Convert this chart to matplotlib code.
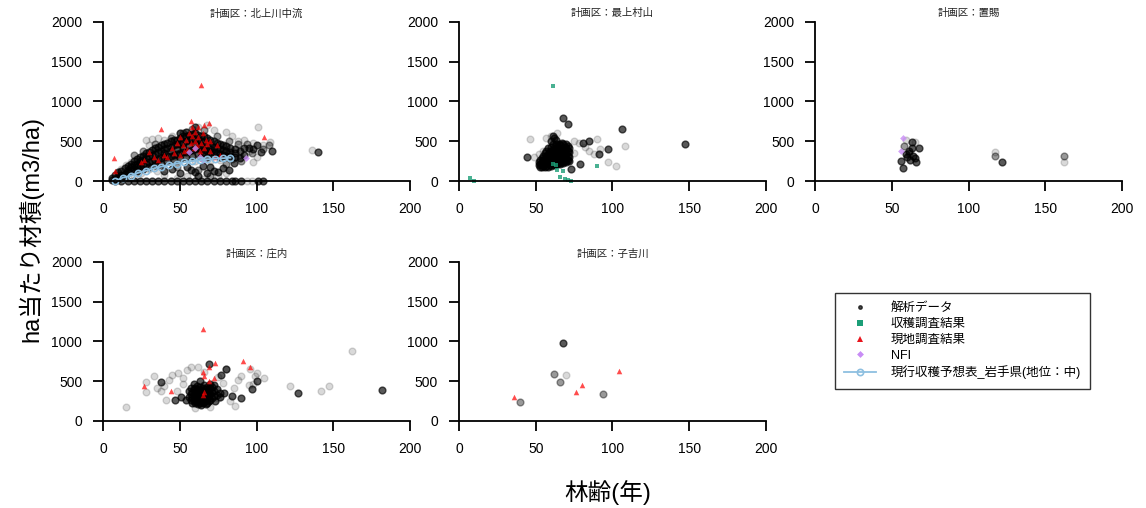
import matplotlib
matplotlib.use("Agg")
import matplotlib.pyplot as plt
from matplotlib.lines import Line2D

plt.rcParams['font.family'] = ['Liberation Sans', 'Noto Sans CJK JP', 'DejaVu Sans']

# ---- data (age, volume m3/ha) ----
titles = ["計画区：北上川中流", "計画区：最上村山", "計画区：置賜", "計画区：庄内", "計画区：子吉川"]

# 北上川中流 -- (age, [volumes]) groups of the dense dark cloud
kita_dark_cols = [
    (6, [10, 40]), (8, [30, 80]), (10, [50, 110, 20]), (12, [70, 130]),
    (14, [90, 160, 60]), (16, [110, 190, 140]), (18, [130, 220, 170]),
    (20, [150, 250, 200]), (22, [170, 280, 220, 130]), (24, [190, 300, 250]),
    (26, [200, 320, 270, 150]), (28, [220, 350, 290]), (30, [240, 370, 310, 180]),
    (32, [250, 390, 330]), (34, [260, 410, 340, 200]), (36, [280, 430, 360]),
    (38, [290, 450, 380, 220]), (40, [300, 470, 400, 350]), (42, [310, 480, 420, 250]),
    (44, [320, 500, 430, 380]), (46, [330, 510, 450, 270]), (48, [340, 520, 460, 400]),
    (50, [350, 540, 470, 280, 600]), (52, [360, 560, 480, 420]),
    (54, [370, 570, 500, 300, 620]), (56, [380, 580, 510, 450]),
    (58, [390, 590, 520, 320]), (60, [400, 600, 520, 460, 680]),
    (62, [410, 580, 510, 340]), (64, [400, 570, 500, 450, 300]),
    (66, [390, 560, 490, 350]), (68, [380, 540, 470, 300]), (70, [370, 520, 450, 400]),
    (72, [360, 500, 430, 330]), (74, [350, 480, 420]), (76, [340, 470, 400, 300]),
    (78, [330, 450, 390]), (80, [320, 440, 380]), (83, [310, 420, 360]),
    (86, [300, 400, 350]), (89, [290, 380]), (92, [420, 330]),
]
kita_dark_extra = [(40, 120), (45, 150), (50, 100), (55, 170), (57, 140), (60, 110),
                   (62, 60), (65, 190), (68, 100), (70, 170), (72, 130), (75, 110),
                   (78, 160), (82, 140), (85, 230), (103, 370), (110, 380), (140, 370),
                   (95, 420), (100, 450), (98, 400)]
kita_zero_ages = [8, 12, 16, 20, 24, 28, 32, 36, 40, 44, 48, 52, 56, 60, 64, 68, 72,
                  76, 80, 84, 86, 90, 101, 104]
kita_mid = [(20, 330), (26, 380), (34, 470), (44, 540), (52, 610), (58, 650), (66, 640),
            (74, 560), (82, 500), (88, 470), (94, 460), (97, 350), (90, 250), (84, 280),
            (62, 140), (70, 60), (48, 180), (36, 200), (104, 400), (108, 450), (80, 210)]
kita_light = [(12, 150), (15, 200), (18, 240), (22, 280), (26, 330), (28, 520), (32, 530),
              (36, 540), (30, 450), (40, 520), (45, 560), (50, 600), (55, 620), (62, 680),
              (68, 700), (72, 640), (80, 620), (84, 560), (88, 500), (92, 520), (98, 480),
              (101, 675), (98, 240), (104, 450), (109, 490), (136, 390), (35, 120),
              (40, 80), (48, 40), (55, 60), (65, 30), (75, 60), (80, 100), (85, 300),
              (90, 300), (95, 380), (100, 300), (78, 350), (82, 330), (20, 60), (25, 100),
              (30, 150), (10, 100), (60, 250), (70, 250), (76, 270), (94, 0), (97, 0)]
kita_field = [(7, 290), (8, 125), (38, 660), (57, 760), (69, 735), (64, 1205), (105, 555),
              (27, 265), (30, 370), (36, 265), (25, 240), (33, 300), (40, 330), (45, 420),
              (48, 480), (50, 550), (52, 450), (54, 520), (55, 400), (56, 600), (57, 480),
              (58, 560), (59, 420), (60, 500), (60, 620), (61, 450), (62, 550), (63, 380),
              (64, 480), (65, 600), (66, 420), (67, 520), (68, 460), (70, 380), (72, 300),
              (76, 330), (62, 680), (58, 680), (66, 700), (53, 380), (46, 350), (42, 300),
              (50, 330), (63, 330), (70, 500), (74, 450)]
kita_nfi = [(56, 370), (60, 410), (63, 305), (93, 285), (65, 260)]

# 現行収穫予想表 (岩手県, 地位: 中)
yield_age = [8, 13, 18, 23, 28, 33, 38, 43, 48, 53, 58, 63, 68, 73, 78, 83]
yield_vol = [0, 43, 66, 104, 130, 158, 180, 200, 220, 235, 250, 262, 272, 280, 287, 293]

# 最上村山
moga_dark_cols = [
    (52, [200, 240]), (53, [180, 260, 220]), (54, [170, 230, 290]),
    (55, [190, 260, 320]), (56, [170, 210, 280, 350]), (57, [190, 250, 310, 380]),
    (58, [180, 230, 290, 340, 410]), (59, [200, 260, 320, 380]),
    (60, [190, 240, 300, 360, 430, 500]), (61, [210, 270, 330, 390, 460, 560]),
    (62, [200, 250, 310, 370, 420, 540]), (63, [220, 280, 340, 400, 470, 510]),
    (64, [210, 260, 320, 380, 440]), (65, [230, 290, 350, 410, 470]),
    (66, [220, 270, 330, 390, 450]), (67, [240, 300, 360, 420, 480]),
    (68, [230, 280, 340, 400, 460]), (69, [250, 310, 370, 430]),
    (70, [240, 290, 350, 410, 470]), (71, [260, 320, 380, 440]), (72, [250, 300, 360, 420]),
]
moga_dark_extra = [(44, 305), (68, 790), (71, 720), (85, 505), (97, 400), (79, 220),
                   (73, 155), (147, 460), (106, 655), (81, 478), (91, 340)]
moga_light = [(46, 525), (57, 545), (90, 525), (108, 445), (102, 190), (97, 235),
              (82, 425), (52, 340), (49, 305), (55, 380), (60, 560), (75, 500), (78, 480),
              (85, 380), (92, 400), (64, 600), (88, 340), (75, 350)]
moga_harvest = [(7, 35), (10, 0), (61, 1195), (61, 220), (64, 140), (68, 125), (66, 45),
                (69, 25), (71, 10), (73, 0), (90, 190), (63, 200)]

# 置賜
oki_dark = [(57, 167), (56, 247), (63, 494), (68, 411), (66, 243), (62, 260), (59, 344),
            (61, 380), (64, 320), (63, 411), (60, 300), (65, 290), (122, 243)]
oki_mid = [(117, 319), (162, 319), (58, 444), (61, 350)]
oki_light = [(117, 370), (162, 243), (59, 511), (65, 494)]
oki_nfi = [(57, 537), (56, 377)]

# 庄内
sho_dark_cols = [
    (56, [300, 380]), (57, [260, 340, 420]), (58, [230, 300, 370]),
    (59, [250, 320, 400, 460]), (60, [220, 280, 350, 420]), (61, [240, 300, 370, 440]),
    (62, [210, 270, 330, 400]), (63, [230, 290, 360, 430, 500]), (64, [200, 260, 320, 390]),
    (65, [220, 280, 350, 420]), (66, [240, 300, 370, 450]), (67, [210, 270, 330, 400]),
    (68, [230, 290, 360, 430]), (69, [250, 310, 380]), (70, [270, 340, 410, 470]),
    (71, [290, 360, 430]), (72, [310, 380, 450]), (74, [330, 400]), (76, [350, 300]),
]
sho_dark_extra = [(38, 495), (69, 720), (77, 580), (80, 650), (100, 505), (97, 400),
                  (90, 285), (84, 318), (79, 356), (51, 298), (54, 264), (127, 356),
                  (182, 390), (47, 270), (73, 250)]
sho_light = [(15, 180), (28, 360), (28, 495), (40, 440), (45, 580), (49, 600), (57, 685),
             (41, 264), (86, 193), (70, 180), (90, 570), (99, 570), (105, 538), (96, 650),
             (80, 650), (122, 440), (142, 380), (147, 445), (162, 880), (35, 420),
             (33, 560), (38, 380), (43, 520), (52, 540), (55, 640), (62, 680), (66, 620),
             (75, 550), (78, 480), (85, 420), (88, 520), (95, 450), (98, 470), (100, 600),
             (60, 160), (75, 290), (83, 250), (48, 380), (52, 460)]
sho_field = [(65, 1157), (27, 444), (44, 377), (69, 675), (73, 734), (91, 759), (96, 675),
             (65, 620), (66, 566), (72, 538), (69, 509), (66, 370), (65, 330)]

# 子吉川
kos_dark = [(68, 985)]
kos_mid = [(62, 591), (66, 495), (94, 344), (40, 235)]
kos_light = [(70, 583)]
kos_field = [(36, 306), (76, 361), (80, 453), (104, 633)]


def expand(cols):
    return [(a, v) for a, vs in cols for v in vs]


panels = [
    dict(dark=expand(kita_dark_cols) + kita_dark_extra + [(a, 0) for a in kita_zero_ages],
         mid=kita_mid, light=kita_light, harvest=[], field=kita_field, nfi=kita_nfi, yt=True),
    dict(dark=expand(moga_dark_cols) + moga_dark_extra, mid=[], light=moga_light,
         harvest=moga_harvest, field=[], nfi=[], yt=False),
    dict(dark=oki_dark, mid=oki_mid, light=oki_light, harvest=[], field=[], nfi=oki_nfi, yt=False),
    dict(dark=expand(sho_dark_cols) + sho_dark_extra, mid=[], light=sho_light,
         harvest=[], field=sho_field, nfi=[], yt=False),
    dict(dark=kos_dark, mid=kos_mid, light=kos_light, harvest=[], field=kos_field, nfi=[], yt=False),
]

fig = plt.figure(figsize=(11.46, 5.08), dpi=100)
lefts = [0.0899, 0.4005, 0.7112, 0.0899, 0.4005]
bottoms = [0.6437, 0.6437, 0.6437, 0.1713, 0.1713]
W, H = 0.2679, 0.313

harvest_c = '#1b9e77'
nfi_c = '#c88cf5'
yield_c = '#8dbfe0'


def pts(ax, data, **kw):
    if not data:
        return
    xs = [d[0] for d in data]
    ys = [d[1] for d in data]
    ax.scatter(xs, ys, clip_on=False, **kw)


for i, p in enumerate(panels):
    ax = fig.add_axes([lefts[i], bottoms[i], W, H])
    pts(ax, p['light'], s=24, color='black', alpha=0.15, linewidths=1)
    pts(ax, p['mid'], s=24, color='black', alpha=0.4, linewidths=1)
    pts(ax, p['dark'], s=24, color='black', alpha=0.65, linewidths=1)
    pts(ax, p['harvest'], s=10, marker='s', color=harvest_c, alpha=0.8, linewidths=0)
    pts(ax, p['field'], s=16, marker='^', color='red', alpha=0.7, linewidths=0)
    pts(ax, p['nfi'], s=12, marker='D', color=nfi_c, alpha=0.8, linewidths=0)
    if p['yt']:
        ax.plot(yield_age, yield_vol, color=yield_c, lw=1.3, marker='o', ms=4.5,
                mfc='none', mec=yield_c, mew=1.2, clip_on=False)
    ax.set_xlim(0, 200)
    ax.set_ylim(0, 2000)
    ax.set_xticks([0, 50, 100, 150, 200])
    ax.set_yticks([0, 500, 1000, 1500, 2000])
    for s in ['top', 'right']:
        ax.spines[s].set_visible(False)
    for s in ['left', 'bottom']:
        ax.spines[s].set_linewidth(1.3)
    ax.tick_params(direction='out', length=7, width=1.3, labelsize=10, pad=8)
    ax.set_title(titles[i], fontsize=7.5, pad=4, color='#222222')

fig.text(0.027, 0.55, 'ha当たり材積(m3/ha)', rotation=90, ha='center', va='center', fontsize=17)
fig.text(0.53, 0.031, '林齢(年)', ha='center', va='center', fontsize=17)

handles = [
    Line2D([], [], ls='none', marker='o', ms=2.5, color='black', alpha=0.7),
    Line2D([], [], ls='none', marker='s', ms=4.5, color=harvest_c, mew=0),
    Line2D([], [], ls='none', marker='^', ms=5, color='#e8141c', mew=0),
    Line2D([], [], ls='none', marker='D', ms=3.5, color=nfi_c, mew=0),
    Line2D([], [], color=yield_c, lw=1.3, marker='o', ms=4.5, mfc='none', mec=yield_c, mew=1.2),
]
labels = ['解析データ', '収穫調査結果', '現地調査結果', 'NFI', '現行収穫予想表_岩手県(地位：中)']
leg = fig.legend(handles, labels, loc='upper left', bbox_to_anchor=(835 / 1146, 1 - 293 / 508),
                 fontsize=9, frameon=True, fancybox=False, edgecolor='black', borderaxespad=0,
                 handlelength=2.5, labelspacing=0.3, borderpad=0.75, handletextpad=1.2)
leg.get_frame().set_linewidth(1.0)

fig.savefig('out.png', dpi=100)
